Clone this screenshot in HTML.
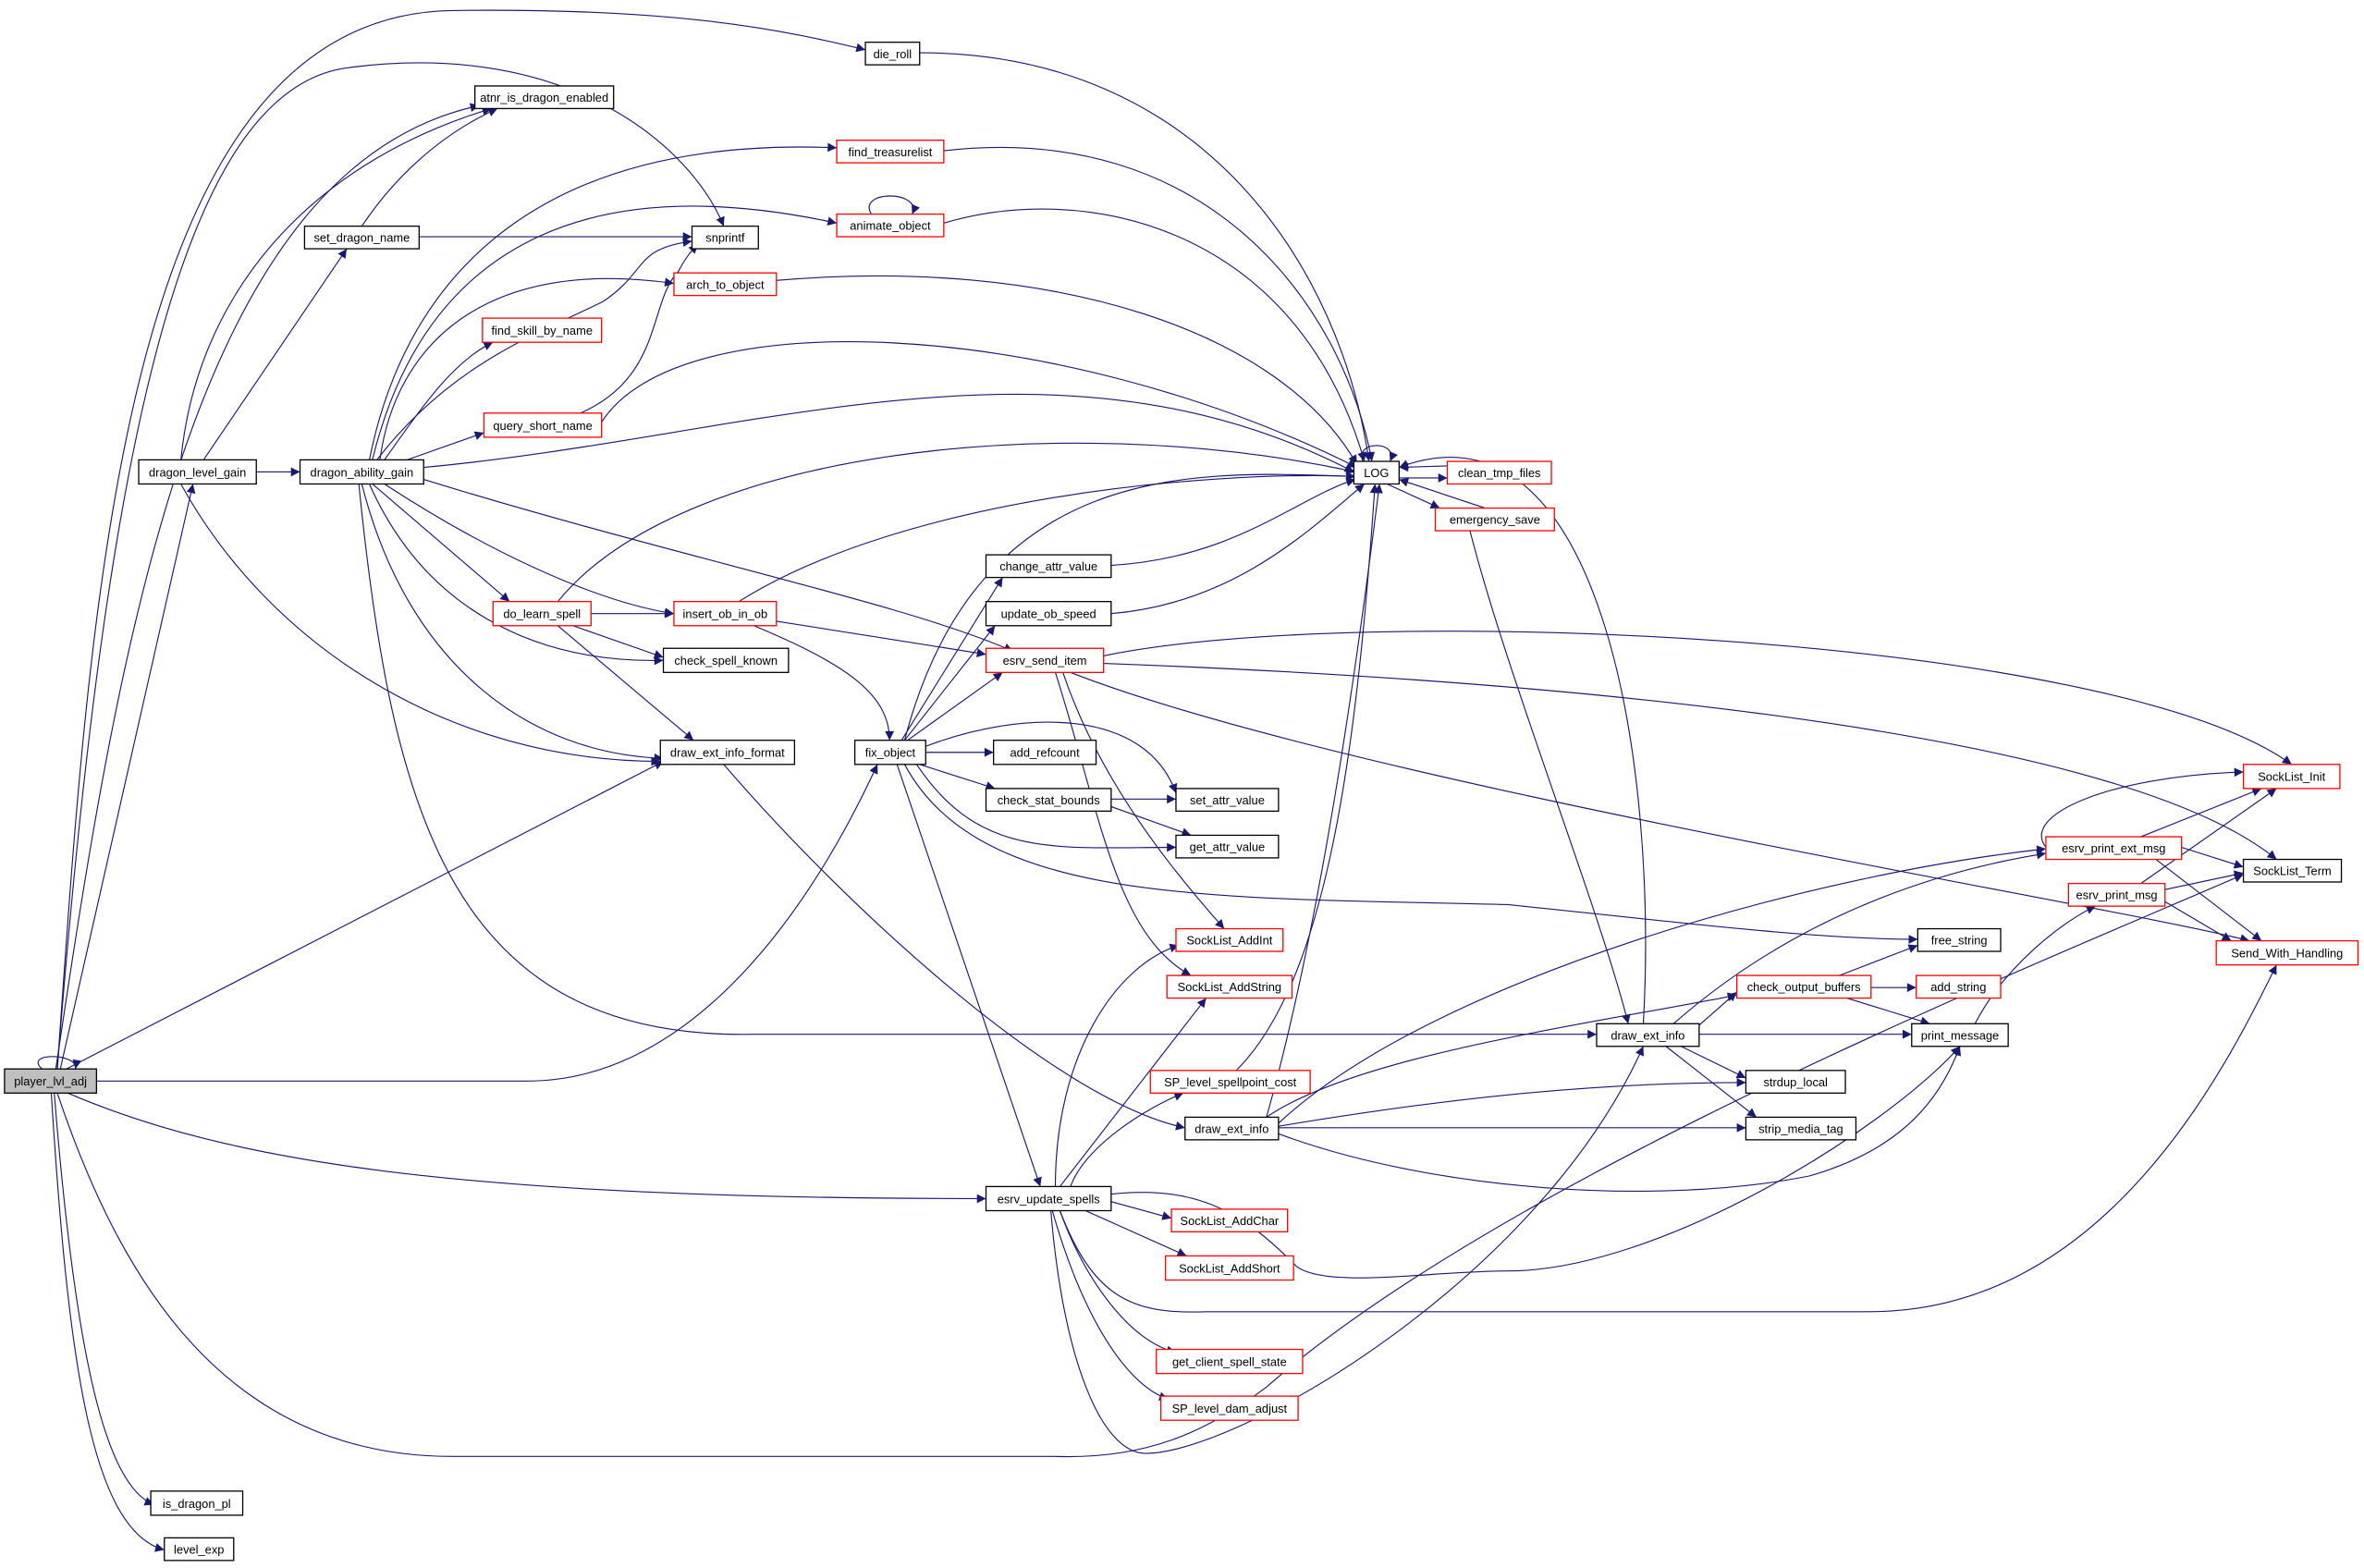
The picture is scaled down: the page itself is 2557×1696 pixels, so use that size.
<!DOCTYPE html>
<html><head><meta charset="utf-8"><style>
html,body{margin:0;padding:0;background:#fff;}
svg{display:block;}
text{font-family:"Liberation Sans",sans-serif;font-size:7.9px;text-anchor:middle;fill:#000;}
.e{fill:none;stroke:#191970;stroke-width:0.7;}
.n{fill:#fff;stroke:#000;stroke-width:0.8;}
.r{fill:#fff;stroke:#ff0000;stroke-width:0.8;}
</style></head><body>
<svg width="2557" height="1696" viewBox="0 0 1568 1040" preserveAspectRatio="none" xmlns="http://www.w3.org/2000/svg">
<defs><marker id="a" viewBox="0 0 10 10" refX="10" refY="5" markerWidth="7" markerHeight="6" orient="auto" markerUnits="userSpaceOnUse"><path d="M0,0 L10,5 L0,10 z" fill="#191970"/></marker></defs>
<g class="e" marker-end="url(#a)">
<path d="M38,709 C60,400 80,10 300,7 C450,5 520,20 574,33"/>
<path d="M38,709 C70,300 120,60 230,45 C380,25 460,100 480,150"/>
<path d="M37,709 C80,420 130,110 318,70"/>
<path d="M40,709 L128,321"/>
<path d="M28,709 C15,698 52,698 50,709"/>
<path d="M44,709 L440,505"/>
<path d="M64,717 L350,717 C450,717 530,620 582,507"/>
<path d="M45,725 C150,770 300,795 654,795"/>
<path d="M36,725 C50,900 70,985 102,998"/>
<path d="M34,725 C45,900 60,1015 109,1028"/>
<path d="M38,725 C80,850 150,966 300,966 L700,966 C760,968 800,950 840,920 C1000,780 1350,640 1488,580"/>
<path d="M120,305 C130,200 200,110 326,72"/>
<path d="M135,305 L230,165"/>
<path d="M170,313 L199,313"/>
<path d="M120,321 C180,430 300,505 438,505"/>
<path d="M240,150 C260,120 290,90 330,72"/>
<path d="M278,157 L459,157"/>
<path d="M245,305 C270,180 360,90 555,98"/>
<path d="M247,305 C280,170 380,110 555,148"/>
<path d="M250,305 C300,240 360,220 400,200 C430,180 420,165 459,160"/>
<path d="M252,305 C262,230 320,170 447,188"/>
<path d="M255,305 C280,270 300,240 327,227"/>
<path d="M270,305 L321,287"/>
<path d="M281,310 C500,290 700,210 898,313"/>
<path d="M281,318 C450,370 600,400 672,432"/>
<path d="M247,321 L338,399"/>
<path d="M255,321 C330,370 400,400 447,407"/>
<path d="M245,321 C280,400 350,440 440,438"/>
<path d="M240,321 C270,440 350,500 440,503"/>
<path d="M238,321 C260,540 300,690 500,686 L1059,686"/>
<path d="M385,274 C440,250 430,200 450,180 C455,170 460,165 463,162"/>
<path d="M399,280 C450,200 700,210 900,310"/>
<path d="M370,399 C450,300 700,270 899,313"/>
<path d="M392,407 L447,407"/>
<path d="M380,415 L440,436"/>
<path d="M370,415 L460,491"/>
<path d="M490,399 C600,330 800,312 899,316"/>
<path d="M515,412 L654,434"/>
<path d="M500,415 C560,440 590,460 590,491"/>
<path d="M578,142 C568,126 612,126 605,142"/>
<path d="M626,148 C720,120 860,150 905,306"/>
<path d="M610,35 C800,35 890,180 908,306"/>
<path d="M626,100 C800,80 890,200 910,306"/>
<path d="M515,186 C700,170 850,220 900,308"/>
<path d="M904,306 C898,292 928,292 922,306"/>
<path d="M960,309 L928,310"/>
<path d="M928,317 L960,317"/>
<path d="M920,321 L955,337"/>
<path d="M985,337 L928,318"/>
<path d="M975,352 C1000,450 1060,600 1080,679"/>
<path d="M1090,679 C1100,500 1060,260 928,310"/>
<path d="M600,491 C650,300 800,313 899,316"/>
<path d="M598,491 L665,383"/>
<path d="M600,491 L660,415"/>
<path d="M602,491 L665,446"/>
<path d="M614,499 L659,499"/>
<path d="M610,507 L660,523"/>
<path d="M614,495 C680,470 760,470 780,526"/>
<path d="M608,507 C650,570 700,562 780,562"/>
<path d="M600,507 C650,600 800,595 1000,600 C1100,610 1200,623 1272,623"/>
<path d="M595,507 L690,787"/>
<path d="M737,375 C820,370 860,330 899,318"/>
<path d="M737,407 C820,400 870,350 905,321"/>
<path d="M737,530 L780,530"/>
<path d="M737,535 L790,554"/>
<path d="M732,435 C900,400 1400,420 1520,507"/>
<path d="M732,440 C1000,450 1400,480 1510,570"/>
<path d="M710,446 C900,520 1400,600 1492,624"/>
<path d="M705,446 C730,520 780,580 812,616"/>
<path d="M700,446 C730,540 740,620 790,647"/>
<path d="M480,507 C560,600 700,730 786,748"/>
<path d="M820,710 C880,650 900,500 912,321"/>
<path d="M840,741 C880,600 905,400 915,321"/>
<path d="M848,745 C950,650 1200,580 1357,563"/>
<path d="M848,747 C950,730 1050,718 1158,718"/>
<path d="M848,748 L1158,748"/>
<path d="M848,752 C950,790 1100,800 1200,780 C1270,760 1290,720 1300,694"/>
<path d="M840,741 C900,700 1050,680 1152,660"/>
<path d="M1127,680 L1152,658"/>
<path d="M1127,686 L1268,686"/>
<path d="M1115,694 L1158,715"/>
<path d="M1105,694 L1165,741"/>
<path d="M1110,679 C1200,600 1300,575 1357,566"/>
<path d="M1220,647 L1272,627"/>
<path d="M1241,655 L1271,655"/>
<path d="M1225,662 L1280,679"/>
<path d="M1310,679 C1330,640 1370,610 1390,601"/>
<path d="M1420,555 L1500,523"/>
<path d="M1447,562 L1488,575"/>
<path d="M1430,570 L1500,624"/>
<path d="M1420,586 L1510,523"/>
<path d="M1436,590 L1488,579"/>
<path d="M1436,598 L1480,624"/>
<path d="M1357,562 C1340,540 1400,515 1488,512"/>
<path d="M700,787 C700,700 740,640 782,627"/>
<path d="M703,787 L800,662"/>
<path d="M710,787 C720,760 760,735 785,725"/>
<path d="M737,797 L777,808"/>
<path d="M720,803 L787,833"/>
<path d="M703,803 C720,850 750,890 780,897"/>
<path d="M698,803 C720,880 750,920 775,928"/>
<path d="M737,792 C800,785 830,810 860,840 C880,855 950,843 1000,843 C1100,843 1250,750 1300,694"/>
<path d="M703,803 C725,860 750,872 800,870 L1240,870 C1400,870 1480,700 1510,640"/>
<path d="M697,803 C705,900 730,964 760,964 C820,964 1020,850 1090,694"/>
</g>
<g>
<rect x="3" y="709" width="61" height="16" fill="#bfbfbf" stroke="#000" stroke-width="0.8"/><text x="33.5" y="720">player_lvl_adj</text>
<rect class="n" x="574" y="28" width="36" height="15"/><text x="592" y="38.5">die_roll</text>
<rect class="n" x="315" y="57" width="92" height="15"/><text x="361" y="67.5">atnr_is_dragon_enabled</text>
<rect class="r" x="555" y="93" width="71" height="15"/><text x="590.5" y="103.5">find_treasurelist</text>
<rect class="r" x="555" y="142" width="71" height="15"/><text x="590.5" y="152.5">animate_object</text>
<rect class="n" x="202" y="150" width="76" height="15"/><text x="240" y="160.5">set_dragon_name</text>
<rect class="n" x="459" y="150" width="44" height="15"/><text x="481" y="160.5">snprintf</text>
<rect class="r" x="447" y="181" width="68" height="15"/><text x="481" y="191.5">arch_to_object</text>
<rect class="r" x="320" y="211" width="79" height="16"/><text x="359.5" y="222">find_skill_by_name</text>
<rect class="r" x="321" y="274" width="78" height="16"/><text x="360" y="285">query_short_name</text>
<rect class="n" x="898" y="306" width="30" height="15"/><text x="913" y="316.5">LOG</text>
<rect class="r" x="960" y="306" width="69" height="15"/><text x="994.5" y="316.5">clean_tmp_files</text>
<rect class="r" x="952" y="337" width="79" height="15"/><text x="991.5" y="347.5">emergency_save</text>
<rect class="n" x="92" y="305" width="78" height="16"/><text x="131" y="316">dragon_level_gain</text>
<rect class="n" x="199" y="305" width="82" height="16"/><text x="240" y="316">dragon_ability_gain</text>
<rect class="n" x="654" y="368" width="83" height="15"/><text x="695.5" y="378.5">change_attr_value</text>
<rect class="r" x="327" y="399" width="65" height="16"/><text x="359.5" y="410">do_learn_spell</text>
<rect class="r" x="447" y="399" width="68" height="16"/><text x="481" y="410">insert_ob_in_ob</text>
<rect class="n" x="654" y="399" width="83" height="16"/><text x="695.5" y="410">update_ob_speed</text>
<rect class="r" x="654" y="430" width="78" height="16"/><text x="693" y="441">esrv_send_item</text>
<rect class="n" x="440" y="430" width="83" height="16"/><text x="481.5" y="441">check_spell_known</text>
<rect class="n" x="567" y="491" width="47" height="16"/><text x="590.5" y="502">fix_object</text>
<rect class="n" x="659" y="491" width="68" height="16"/><text x="693" y="502">add_refcount</text>
<rect class="n" x="438" y="491" width="89" height="16"/><text x="482.5" y="502">draw_ext_info_format</text>
<rect class="n" x="654" y="523" width="83" height="15"/><text x="695.5" y="533.5">check_stat_bounds</text>
<rect class="n" x="780" y="523" width="68" height="15"/><text x="814" y="533.5">set_attr_value</text>
<rect class="n" x="780" y="554" width="68" height="15"/><text x="814" y="564.5">get_attr_value</text>
<rect class="r" x="1488" y="507" width="64" height="16"/><text x="1520" y="518">SockList_Init</text>
<rect class="r" x="1357" y="555" width="90" height="15"/><text x="1402" y="565.5">esrv_print_ext_msg</text>
<rect class="n" x="1488" y="570" width="65" height="15"/><text x="1520.5" y="580.5">SockList_Term</text>
<rect class="r" x="1372" y="586" width="64" height="15"/><text x="1404" y="596.5">esrv_print_msg</text>
<rect class="r" x="1470" y="624" width="94" height="16"/><text x="1517" y="635">Send_With_Handling</text>
<rect class="n" x="1272" y="616" width="55" height="15"/><text x="1299.5" y="626.5">free_string</text>
<rect class="r" x="780" y="616" width="71" height="15"/><text x="815.5" y="626.5">SockList_AddInt</text>
<rect class="r" x="1152" y="647" width="89" height="15"/><text x="1196.5" y="657.5">check_output_buffers</text>
<rect class="r" x="1271" y="647" width="56" height="15"/><text x="1299" y="657.5">add_string</text>
<rect class="r" x="774" y="647" width="83" height="15"/><text x="815.5" y="657.5">SockList_AddString</text>
<rect class="n" x="1059" y="679" width="68" height="15"/><text x="1093" y="689.5">draw_ext_info</text>
<rect class="n" x="1268" y="679" width="64" height="15"/><text x="1300" y="689.5">print_message</text>
<rect class="r" x="763" y="710" width="106" height="15"/><text x="816" y="720.5">SP_level_spellpoint_cost</text>
<rect class="n" x="1158" y="710" width="66" height="15"/><text x="1191" y="720.5">strdup_local</text>
<rect class="n" x="786" y="741" width="62" height="15"/><text x="817" y="751.5">draw_ext_info</text>
<rect class="n" x="1158" y="741" width="73" height="15"/><text x="1194.5" y="751.5">strip_media_tag</text>
<rect class="n" x="654" y="787" width="83" height="16"/><text x="695.5" y="798">esrv_update_spells</text>
<rect class="r" x="777" y="802" width="77" height="15"/><text x="815.5" y="812.5">SockList_AddChar</text>
<rect class="r" x="773" y="833" width="85" height="16"/><text x="815.5" y="844">SockList_AddShort</text>
<rect class="r" x="767" y="895" width="97" height="16"/><text x="815.5" y="906">get_client_spell_state</text>
<rect class="r" x="770" y="926" width="91" height="16"/><text x="815.5" y="937">SP_level_dam_adjust</text>
<rect class="n" x="100" y="989" width="61" height="16"/><text x="130.5" y="1000">is_dragon_pl</text>
<rect class="n" x="109" y="1020" width="46" height="15"/><text x="132" y="1030.5">level_exp</text>
</g>
</svg>
</body></html>
